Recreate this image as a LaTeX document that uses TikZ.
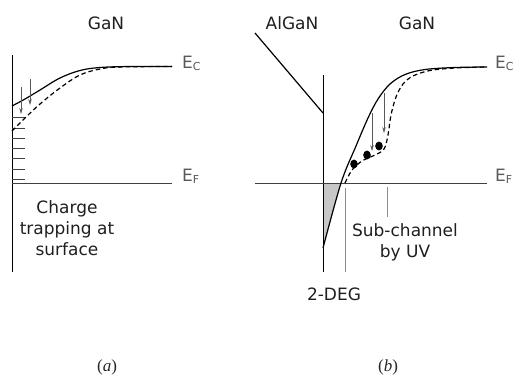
\documentclass[tikz,border=0pt]{standalone}
\usepackage{fontspec}
\setmainfont{DejaVu Sans}
\newfontfamily\capfont{Liberation Serif}
\usepackage{tikz}
\usetikzlibrary{positioning,calc,arrows.meta}

\begin{document}
\begin{tikzpicture}[x=1pt, y=-1pt,
        lbl/.style={font=\fontsize{17}{21}\selectfont, text=black!88, align=center, inner sep=0pt},
        elbl/.style={font=\fontsize{17}{21}\selectfont, text=black!65, inner sep=0pt, anchor=base west},
        caplbl/.style={font=\capfont\fontsize{17}{20}\selectfont, text=black!85, inner sep=0pt},
        band/.style={line width=1.2pt, black},
        shifted/.style={line width=1.2pt, black, dash pattern=on 4.5pt off 3pt},
        level/.style={line width=0.7pt, black!75},
        wall/.style={line width=0.8pt, black},
        marker/.style={line width=0.8pt, black!45},
        arrow/.style={-{Stealth[length=6pt, width=3.5pt]}, line width=0.6pt, black!65},
      ]
      \useasboundingbox (0,0) rectangle (513,376);
      % (a) surface
      \coordinate (surftop) at (12,55);
      \coordinate (surfbot) at (12,272);
      \coordinate (efastart) at (12,183);
      \coordinate (efaend) at (172,183);
      \draw [wall] (surftop) -- (surfbot);
      \draw [level] (efastart) -- (efaend);
      \foreach \y in {117,128,138,148,158,169,179}
        \draw [level] (12,\y) -- (25,\y);
      \draw [band] plot [smooth, tension=0.6] coordinates {(12,106) (25,99) (40,90) (60,78) (80,70.5) (100,67.5) (130,66.5) (172,66.5)};
      \draw [shifted] plot [smooth, tension=0.6] coordinates {(12,131) (25,118) (40,104) (60,88) (80,75) (100,69) (120,67) (172,66.5)};
      \draw [arrow] (21,87) -- (21,114);
      \draw [arrow] (30,79) -- (30,105);
      \node [lbl, anchor=base] (gana) at (106,29) {GaN};
      \node [elbl] (eca) at (182,68) {E\textsubscript{\fontsize{11}{13}\selectfont C}};
      \node [elbl] (efa) at (182,181) {E\textsubscript{\fontsize{11}{13}\selectfont F}};
      \node [lbl, anchor=base] (trapping) at (67,255) {Charge\\trapping at\\surface};
      % (b) heterojunction
      \coordinate (ifctop) at (323,75);
      \coordinate (ifcbot) at (323,272);
      \coordinate (barrier) at (323,113);
      \coordinate (efbstart) at (255,183);
      \coordinate (efbend) at (487,183);
      \fill [black!22] (323,183) -- (341,183) -- (323,248) -- cycle;
      \draw [wall] (ifctop) -- (ifcbot);
      \draw [band] (255,33) -- (barrier);
      \draw [level] (efbstart) -- (efbend);
      \draw [band] plot [smooth, tension=0.55] coordinates {(323,248) (341,183) (356,146) (368,118) (378,99) (390,84) (405,74.5) (425,69.5) (455,67.5) (487,67)};
      \draw [shifted] plot [smooth, tension=0.55] coordinates {(345,183) (352,170) (362,161) (375,155) (384,149) (388,135) (391,115) (396,97) (403,84) (413,76) (430,70.5) (455,68) (487,67)};
      \foreach \p in {(354,164),(367,155),(379,146)}
        \fill \p ellipse (3.8 and 4.4);
      \draw [arrow] (372,113) -- (372,151);
      \draw [arrow] (384,93) -- (384,133);
      \coordinate (degtop) at (345,188);
      \coordinate (degbot) at (345,272);
      \coordinate (subtop) at (387,187);
      \coordinate (subbot) at (387,217);
      \draw [marker] (degtop) -- (degbot);
      \draw [marker] (subtop) -- (subbot);
      \node [lbl, anchor=base] (algan) at (292,29) {AlGaN};
      \node [lbl, anchor=base] (ganb) at (417,29) {GaN};
      \node [elbl] (ecb) at (495,68) {E\textsubscript{\fontsize{11}{13}\selectfont C}};
      \node [elbl] (efb) at (495,181) {E\textsubscript{\fontsize{11}{13}\selectfont F}};
      \node [lbl, anchor=base] (subch) at (405,257) {Sub-channel\\by UV};
      \node [lbl, anchor=base] (deg) at (334,300) {2-DEG};
      % captions
      \node [caplbl, anchor=base] (capa) at (107,371) {(\textit{a})};
      \node [caplbl, anchor=base] (capb) at (388,371) {(\textit{b})};
    \end{tikzpicture}
\end{document}
